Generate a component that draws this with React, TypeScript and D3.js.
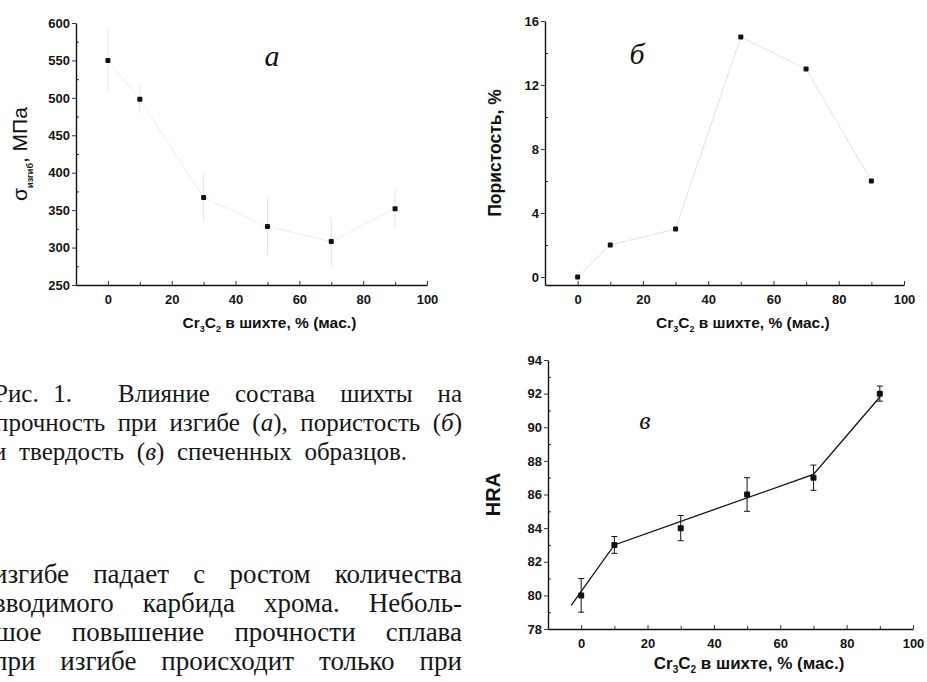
import React, { useEffect, useRef } from 'react';
import * as d3 from 'd3';

// composition of the charge, % Cr3C2
const pct = [0, 10, 30, 50, 70, 90];
// (a) bending strength, MPa
const strength = [550, 498, 367, 328, 308, 352];
const strengthErr = [40, 18, 32, 38, 32, 25];
// (б) porosity, %
const porosity = [0, 2, 3, 15, 13, 6];
// (в) hardness HRA
const hardness = [80, 83, 84, 86, 87, 92];
const hardnessErr = [1, 0.5, 0.75, 1, 0.75, 0.45];
const hardnessFitX = [-3, 10, 70, 90];
const hardnessFitY = [79.4, 83, 87.2, 91.8];

const xTicks = [0, 20, 40, 60, 80, 100];
const xMinor = [10, 30, 50, 70, 90];
const strengthTicks = [250, 300, 350, 400, 450, 500, 550, 600];
const porosityTicks = [0, 4, 8, 12, 16];
const hardnessTicks = [78, 80, 82, 84, 86, 88, 90, 92, 94];

// page text (words, italic parts between *)
const captionWords = [
  [['Рис.', '1.'], ['Влияние', 'состава', 'шихты', 'на']],
  [['прочность', 'при', 'изгибе', '(*а*),', 'пористость', '(*б*)']],
  [['и', 'твердость', '(*в*)', 'спеченных', 'образцов.']],
];
const bodyWords = [
  ['изгибе', 'падает', 'с', 'ростом', 'количества'],
  ['вводимого', 'карбида', 'хрома.', 'Неболь-'],
  ['шое', 'повышение', 'прочности', 'сплава'],
  ['при', 'изгибе', 'происходит', 'только', 'при'],
];

const SANS = '"Liberation Sans", Arial, sans-serif';
const SERIF = '"Liberation Serif", "Times New Roman", serif';

const App = () => {
  const svgRef = useRef<SVGSVGElement>(null);

  useEffect(() => {
    const svg = d3.select(svgRef.current);
    svg.selectAll('*').remove();

    svg.append('rect').attr('width', 927).attr('height', 682).attr('fill', '#fff');

    const panels = [
      {
        left: 76, right: 427, top: 23, bottom: 285,
        yDomain: [250, 600], yTicks: strengthTicks, yMinorStep: 25,
        values: strength, err: strengthErr, errColor: '#e4e4e4',
        lineX: pct, lineY: strength, lineColor: '#ededed',
        letter: 'а', letterPos: [272, 66], letterSize: 30,
        yTitleX: 27, xTitleY: 328, markerSize: 5,
      },
      {
        left: 545, right: 904, top: 21, bottom: 285,
        yDomain: [-0.5, 16], yTicks: porosityTicks, yMinorStep: 2,
        values: porosity, err: null, errColor: '#000',
        lineX: pct, lineY: porosity, lineColor: '#e2e2e2',
        letter: 'б', letterPos: [637, 64], letterSize: 30,
        yTitleX: 501, xTitleY: 328, markerSize: 5,
      },
      {
        left: 548, right: 913, top: 360, bottom: 629,
        yDomain: [78, 94], yTicks: hardnessTicks, yMinorStep: 1,
        values: hardness, err: hardnessErr, errColor: '#111',
        lineX: hardnessFitX, lineY: hardnessFitY, lineColor: '#111',
        letter: 'в', letterPos: [645, 429], letterSize: 26,
        yTitleX: 500, xTitleY: 669, markerSize: 6,
      },
    ];

    panels.forEach((p, pi) => {
      const g = svg.append('g');
      const x = d3.scaleLinear().domain([-10, 100]).range([p.left, p.right]);
      const y = d3.scaleLinear().domain(p.yDomain).range([p.bottom, p.top]);

      // minor ticks
      const yMinor = d3.range(p.yDomain[0] < 0 ? 0 : p.yDomain[0], p.yDomain[1] + 0.001, p.yMinorStep)
        .filter(v => !p.yTicks.includes(v));
      g.append('g').attr('transform', `translate(${p.left},0)`)
        .call(d3.axisLeft(y).tickValues(yMinor).tickSize(-3).tickFormat(() => '').tickSizeOuter(0))
        .call(s => s.select('.domain').remove());
      g.append('g').attr('transform', `translate(0,${p.bottom})`)
        .call(d3.axisBottom(x).tickValues(xMinor).tickSize(-3).tickFormat(() => '').tickSizeOuter(0))
        .call(s => s.select('.domain').remove());

      // main axes
      const ya = g.append('g').attr('transform', `translate(${p.left},0)`)
        .call(d3.axisLeft(y).tickValues(p.yTicks).tickSize(4).tickPadding(2).tickSizeOuter(0));
      const xa = g.append('g').attr('transform', `translate(0,${p.bottom})`)
        .call(d3.axisBottom(x).tickValues(xTicks).tickSize(-4).tickPadding(10).tickSizeOuter(0));
      [ya, xa].forEach(a => {
        a.selectAll('text').attr('font-family', SANS).attr('font-weight', 'bold')
          .attr('font-size', 13).attr('fill', '#141414');
        a.select('.domain').attr('stroke', '#111').attr('stroke-width', 1.4);
      });
      g.selectAll('.tick line').attr('stroke', '#333');

      // connecting line
      const line = d3.line<number>().x((d, i) => x(p.lineX[i])).y(d => y(d));
      g.append('path').datum(p.lineY).attr('d', line)
        .attr('fill', 'none').attr('stroke', p.lineColor).attr('stroke-width', pi === 2 ? 1.3 : 1);

      // error bars
      if (p.err) {
        const eb = g.append('g').attr('stroke', p.errColor).attr('stroke-width', 1);
        pct.forEach((v, i) => {
          const lo = y(p.values[i] - p.err![i]);
          const hi = y(p.values[i] + p.err![i]);
          eb.append('line').attr('x1', x(v)).attr('x2', x(v)).attr('y1', lo).attr('y2', hi);
          if (pi === 2) {
            eb.append('line').attr('x1', x(v) - 3).attr('x2', x(v) + 3).attr('y1', lo).attr('y2', lo);
            eb.append('line').attr('x1', x(v) - 3).attr('x2', x(v) + 3).attr('y1', hi).attr('y2', hi);
          }
        });
      }

      // markers
      g.selectAll('rect.pt').data(p.values).enter().append('rect')
        .attr('class', 'pt')
        .attr('x', (d, i) => x(pct[i]) - p.markerSize / 2)
        .attr('y', d => y(d) - p.markerSize / 2)
        .attr('width', p.markerSize).attr('height', p.markerSize)
        .attr('rx', 1).attr('fill', '#111');

      // panel letter
      g.append('text').attr('x', p.letterPos[0]).attr('y', p.letterPos[1])
        .attr('text-anchor', 'middle').attr('font-family', SERIF).attr('font-style', 'italic')
        .attr('font-size', p.letterSize).attr('fill', '#111').text(p.letter);

      // x title
      const xt = g.append('text').attr('x', (x(0) + x(100)) / 2 + 2).attr('y', p.xTitleY)
        .attr('text-anchor', 'middle').attr('font-family', SANS).attr('font-weight', 'bold')
        .attr('font-size', pi === 2 ? 17 : 15.5).attr('fill', '#111');
      const sub = pi === 2 ? 10 : 9;
      xt.append('tspan').text('Cr');
      xt.append('tspan').attr('dy', 4).attr('font-size', sub).text('3');
      xt.append('tspan').attr('dy', -4).text('C');
      xt.append('tspan').attr('dy', 4).attr('font-size', sub).text('2');
      xt.append('tspan').attr('dy', -4).text(pi === 2 ? ' в шихте, % (мас.)' : ' в шихте,  % (мас.)');

      // y title
      const cy = (p.top + p.bottom) / 2;
      const yt = g.append('text')
        .attr('transform', `translate(${p.yTitleX},${cy}) rotate(-90)`)
        .attr('text-anchor', 'middle').attr('font-family', SANS).attr('fill', '#111');
      if (pi === 0) {
        yt.attr('font-size', 21);
        yt.append('tspan').text('σ');
        yt.append('tspan').attr('dy', 6).attr('font-size', 9).attr('font-weight', 'bold').text('изгиб');
        yt.append('tspan').attr('dy', -6).text(', МПа');
      } else if (pi === 1) {
        yt.attr('font-size', 17.5).attr('font-weight', 'bold').text('Пористость, %');
      } else {
        yt.attr('font-size', 20).attr('font-weight', 'bold').text('HRA');
      }
    });

    // page text, justified word by word
    const txt = svg.append('g').attr('fill', '#161616');
    const setLine = (words: string[], x0: number, x1: number, yb: number, size: number) => {
      const nodes = words.map(w => {
        const t = txt.append('text').attr('y', yb).attr('font-family', SERIF).attr('font-size', size);
        w.split('*').forEach((s, i) => {
          if (s) t.append('tspan').attr('font-style', i % 2 ? 'italic' : 'normal').text(s);
        });
        return t;
      });
      const widths = nodes.map(t => (t.node() as SVGTextElement).getComputedTextLength());
      const gap = words.length > 1 ? (x1 - x0 - d3.sum(widths)) / (words.length - 1) : 0;
      let cx = x0;
      nodes.forEach((t, i) => { t.attr('x', cx); cx += widths[i] + gap; });
    };

    const capY = [402, 431, 460];
    const capSpans = [[[-6, 72], [118, 462]], [[-5, 462]], [[-7, 407]]];
    captionWords.forEach((segs, li) => {
      segs.forEach((ws, si) => setLine(ws, capSpans[li][si][0], capSpans[li][si][1], capY[li], 25));
    });

    const bodyY = [583, 612, 641, 670];
    const bodyX0 = [-7, -7, -5, -7];
    bodyWords.forEach((ws, li) => setLine(ws, bodyX0[li], 462, bodyY[li], 27));
  }, []);

  return (
    <svg ref={svgRef} width={927} height={682}
      style={{ position: 'absolute', left: 0, top: 0, display: 'block' }} />
  );
};

export default App;
